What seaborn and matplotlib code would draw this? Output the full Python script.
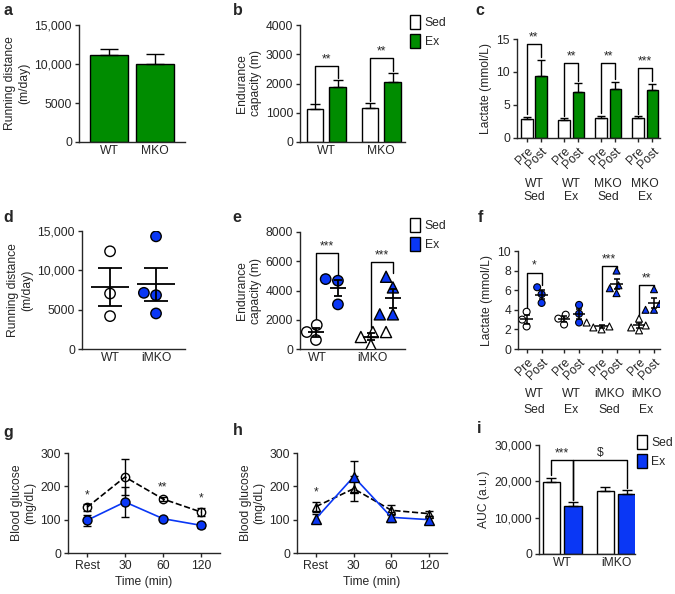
import numpy as np
import pandas as pd
import matplotlib
matplotlib.use("Agg")
import matplotlib.pyplot as plt
import matplotlib.transforms as mtransforms
from matplotlib.patches import Patch
import seaborn as sns

FS = 8.7
sns.set_style("ticks")
plt.rcParams["font.family"] = ["Liberation Sans", "DejaVu Sans"]
plt.rcParams["font.size"] = FS
plt.rcParams["axes.linewidth"] = 1.0

GREEN = "#008C00"
BLUE = "#0A37F5"

# ---------------- data ----------------
# a: voluntary running, MKO cohort (mean, sem)
a_genotype = ["WT", "MKO"]
a_mean = [11200, 10000]
a_sem = [700, 1250]

# b: endurance capacity, MKO cohort
b_genotype = ["WT", "MKO"]
b_sed_mean = [1140, 1165]
b_sed_sem = [150, 170]
b_ex_mean = [1865, 2035]
b_ex_sem = [250, 340]
b_bracket = [2600, 2880]
b_stars = ["**", "**"]

# c: blood lactate pre/post run, MKO cohort
c_group = ["WT Sed", "WT Ex", "MKO Sed", "MKO Ex"]
c_pre_mean = [2.85, 2.7, 3.1, 3.0]
c_pre_sem = [0.4, 0.3, 0.25, 0.3]
c_post_mean = [9.4, 6.9, 7.4, 7.3]
c_post_sem = [2.4, 1.4, 1.1, 0.9]
c_bracket = [14.2, 11.4, 11.4, 10.6]
c_stars = ["**", "**", "**", "***"]

# d: voluntary running, iMKO cohort (single mice)
d_wt = [12420, 7050, 4180]
d_imko = [14320, 7140, 6840, 4520]

# e: endurance capacity, iMKO cohort (single mice)
e_wt_sed = [1640, 1160, 615]
e_wt_ex = [4780, 4670, 3050]
e_imko_sed = [1160, 1160, 820, 270]
e_imko_ex = [4940, 4210, 2370, 2370]
e_bracket = [6580, 5920]
e_stars = ["***", "***"]

# f: blood lactate, iMKO cohort (single mice)
f_group = ["WT Sed", "WT Ex", "iMKO Sed", "iMKO Ex"]
f_pre = [[3.8, 3.0, 2.3], [3.5, 3.1, 2.5], [2.7, 2.3, 2.2, 2.0], [3.1, 2.4, 2.2, 1.9]]
f_post = [[6.3, 5.6, 4.7], [4.5, 3.6, 2.7], [8.0, 6.5, 6.2, 5.7], [6.1, 4.6, 4.0, 4.0]]
f_sig_group = [0, 2, 3]
f_bracket = [7.8, 8.5, 6.5]
f_stars = ["*", "***", "**"]

# g, h: blood glucose during exercise
times = ["Rest", "30", "60", "120"]
g_sed_mean = [137, 228, 162, 123]
g_sed_sem = [10, 54, 7, 13]
g_ex_mean = [98, 153, 103, 83]
g_ex_sem = [17, 44, 5, 7]
g_stars = ["*", "", "**", "*"]
h_sed_mean = [139, 193, 128, 118]
h_sed_sem = [15, 37, 15, 7]
h_ex_mean = [103, 229, 107, 100]
h_ex_sem = [13, 47, 15, 12]
h_stars = ["*", "", "", ""]

# i: glucose AUC
i_genotype = ["WT", "iMKO"]
i_sed_mean = [19700, 17400]
i_sed_sem = [1300, 1000]
i_ex_mean = [13200, 16400]
i_ex_sem = [1000, 1100]


# ---------------- helpers ----------------
fig = plt.figure(figsize=(6.75, 5.94), dpi=100)


def add_axes(x0, y0, x1, y1):
    return fig.add_axes([x0 / 675, 1 - y1 / 594, (x1 - x0) / 675, (y1 - y0) / 594])


def style(ax, ymax, yticks, ylabels, ylabel, xlim, xtick_len=0):
    ax.set_ylim(0, ymax)
    ax.set_yticks(yticks, ylabels)
    ax.set_xlim(*xlim)
    ax.set_ylabel(ylabel, labelpad=3)
    ax.set_xlabel("")
    sns.despine(ax=ax)
    ax.tick_params(axis="y", length=3, width=1, pad=2)
    ax.tick_params(axis="x", length=xtick_len, width=1, pad=2)


def bracket(ax, x1, x2, top, y1, y2, text):
    ax.plot([x1, x1, x2, x2], [y1, top, top, y2], color="black", lw=1, clip_on=False)
    ax.annotate(text, xy=((x1 + x2) / 2, top), xytext=(0, 0.5), textcoords="offset points",
                ha="center", va="bottom", fontsize=FS)


def hue_bars(ax, groups, conds, means, sems, colors, width, gap, capsize):
    rows = []
    for gi, g in enumerate(groups):
        for ci, c in enumerate(conds):
            rows.append({"group": g, "cond": c, "value": means[ci][gi], "sem": sems[ci][gi]})
    df = pd.DataFrame(rows)
    sns.barplot(data=df, x="group", y="value", hue="cond", order=groups, hue_order=conds,
                palette=dict(zip(conds, colors)), width=width, gap=gap, errorbar=None,
                saturation=1, edgecolor="black", linewidth=1, legend=False, ax=ax)
    centers = sorted(p.get_x() + p.get_width() / 2 for p in ax.patches)
    ax.errorbar(centers, df["value"], yerr=[np.zeros(len(df)), df["sem"]], fmt="none",
                ecolor="black", elinewidth=1, capsize=capsize, capthick=1, zorder=3)
    return centers, df


def mean_sem(ax, pos, values, half, capsize, lw=1.3):
    v = pd.Series(values)
    ax.hlines(v.mean(), pos - half, pos + half, color="black", lw=lw, zorder=4)
    ax.errorbar(pos, v.mean(), yerr=v.sem(), fmt="none", ecolor="black", elinewidth=lw,
                capsize=capsize, capthick=lw, zorder=4)


def legend(ax, fill, x, y):
    handles = [Patch(facecolor="white", edgecolor="black", lw=1, label="Sed"),
               Patch(facecolor=fill, edgecolor="black", lw=1, label="Ex")]
    ax.legend(handles=handles, loc="upper left", bbox_to_anchor=(x, y), frameon=False,
              handlelength=0.8, handleheight=1.35, handletextpad=0.4, labelspacing=0.45,
              borderaxespad=0, borderpad=0, fontsize=FS)


def group_labels(ax, names, y, spacing):
    trans = mtransforms.blended_transform_factory(ax.transData, ax.transAxes)
    for k, name in enumerate(names):
        ax.text(k, y, name.replace(" ", "\n"), transform=trans, ha="center", va="top",
                linespacing=spacing, fontsize=FS)


# ---------------- a ----------------
ax = add_axes(79, 25, 185, 142)
sns.barplot(x=a_genotype, y=a_mean, color=GREEN, width=0.82, errorbar=None, saturation=1,
            edgecolor="black", linewidth=1, ax=ax)
a_pos = [p.get_x() + p.get_width() / 2 for p in ax.patches]
ax.errorbar(a_pos, a_mean, yerr=[np.zeros(2), a_sem], fmt="none", ecolor="black",
            elinewidth=1, capsize=6.8, capthick=1)
style(ax, 15000, [0, 5000, 10000, 15000], ["0", "5000", "10,000", "15,000"],
      "Running distance\n(m/day)", (-0.65, 1.65))

# ---------------- b ----------------
ax = add_axes(300, 25, 405, 142)
pos, df = hue_bars(ax, b_genotype, ["Sed", "Ex"], [b_sed_mean, b_ex_mean],
                   [b_sed_sem, b_ex_sem], ["white", GREEN], 0.82, 0.27, 3.6)
tops = (df["value"] + df["sem"]).tolist()
for k in range(2):
    bracket(ax, pos[2 * k], pos[2 * k + 1], b_bracket[k], tops[2 * k] + 60,
            tops[2 * k + 1] + 60, b_stars[k])
style(ax, 4000, [0, 1000, 2000, 3000, 4000], ["0", "1000", "2000", "3000", "4000"],
      "Endurance\ncapacity (m)", (-0.48, 1.43))
legend(ax, GREEN, 1.048, 1.085)

# ---------------- c ----------------
ax = add_axes(517, 39, 660, 138)
pos, df = hue_bars(ax, c_group, ["Pre", "Post"], [c_pre_mean, c_post_mean],
                   [c_pre_sem, c_post_sem], ["white", GREEN], 0.78, 0.2, 2.9)
tops = (df["value"] + df["sem"]).tolist()
for k in range(4):
    bracket(ax, pos[2 * k], pos[2 * k + 1], c_bracket[k], tops[2 * k] + 0.4,
            tops[2 * k + 1] + 0.4, c_stars[k])
style(ax, 15, [0, 5, 10, 15], ["0", "5", "10", "15"], "Lactate (mmol/L)", (-0.46, 3.4), 3)
ax.set_xticks(pos, ["Pre", "Post"] * 4, rotation=45, ha="right", va="top",
              rotation_mode="anchor")
group_labels(ax, c_group, -0.40, 1.2)

# ---------------- d ----------------
ax = add_axes(82, 231, 185, 349)
d_df = pd.DataFrame({"genotype": ["WT"] * len(d_wt) + ["iMKO"] * len(d_imko),
                     "distance": d_wt + d_imko})
sns.swarmplot(data=d_df, x="genotype", y="distance", hue="genotype", order=["WT", "iMKO"],
              palette={"WT": "white", "iMKO": BLUE}, size=7.5, edgecolor="black",
              linewidth=1, legend=False, ax=ax)
for k, vals in enumerate([d_wt, d_imko]):
    mean_sem(ax, k, vals, 0.41, 8.3)
style(ax, 15000, [0, 5000, 10000, 15000], ["0", "5000", "10,000", "15,000"],
      "Running distance\n(m/day)", (-0.61, 1.63))

# ---------------- e ----------------
ax = add_axes(300, 232, 405, 349)
e_df = pd.DataFrame({
    "genotype": ["WT"] * (len(e_wt_sed) + len(e_wt_ex)) + ["iMKO"] * (len(e_imko_sed) + len(e_imko_ex)),
    "cond": ["Sed"] * len(e_wt_sed) + ["Ex"] * len(e_wt_ex) + ["Sed"] * len(e_imko_sed) + ["Ex"] * len(e_imko_ex),
    "distance": e_wt_sed + e_wt_ex + e_imko_sed + e_imko_ex,
})
for geno, mk, sz in [("WT", "o", 7.5), ("iMKO", "^", 8)]:
    sns.swarmplot(data=e_df[e_df["genotype"] == geno], x="genotype", y="distance", hue="cond",
                  order=["WT", "iMKO"], hue_order=["Sed", "Ex"], dodge=True,
                  palette={"Sed": "white", "Ex": BLUE}, marker=mk, size=sz,
                  edgecolor="black", linewidth=1, legend=False, ax=ax)
e_sets = [e_wt_sed, e_wt_ex, e_imko_sed, e_imko_ex]
for k, vals in enumerate(e_sets):
    mean_sem(ax, k // 2 + (0.2 if k % 2 else -0.2), vals, 0.14, 2.9)
for k in range(2):
    bracket(ax, k - 0.2, k + 0.2, e_bracket[k], max(e_sets[2 * k]) + 250,
            max(e_sets[2 * k + 1]) + 250, e_stars[k])
style(ax, 8000, [0, 2000, 4000, 6000, 8000], ["0", "2000", "4000", "6000", "8000"],
      "Endurance\ncapacity (m)", (-0.49, 1.42))
ax.set_xticks([-0.18, 0.82], ["WT", "iMKO"])
legend(ax, BLUE, 1.048, 1.12)

# ---------------- f ----------------
ax = add_axes(518, 251, 660, 349)
rows = []
for k, g in enumerate(f_group):
    rows += [{"group": g, "phase": "Pre", "lactate": v} for v in f_pre[k]]
    rows += [{"group": g, "phase": "Post", "lactate": v} for v in f_post[k]]
f_df = pd.DataFrame(rows)
for subset, mk in [(f_group[:2], "o"), (f_group[2:], "^")]:
    sns.swarmplot(data=f_df[f_df["group"].isin(subset)], x="group", y="lactate", hue="phase",
                  order=f_group, hue_order=["Pre", "Post"], dodge=True,
                  palette={"Pre": "white", "Post": BLUE}, marker=mk, size=5,
                  edgecolor="black", linewidth=0.8, legend=False, ax=ax)
for k in range(4):
    mean_sem(ax, k - 0.2, f_pre[k], 0.17, 2.5, lw=1.1)
    mean_sem(ax, k + 0.2, f_post[k], 0.17, 2.5, lw=1.1)
for k, top, s in zip(f_sig_group, f_bracket, f_stars):
    bracket(ax, k - 0.2, k + 0.2, top, max(f_pre[k]) + 0.25, max(f_post[k]) + 0.25, s)
style(ax, 10, [0, 2, 4, 6, 8, 10], ["0", "2", "4", "6", "8", "10"], "Lactate (mmol/L)",
      (-0.43, 3.36), 3)
ax.set_xticks([k + d for k in range(4) for d in (-0.2, 0.2)], ["Pre", "Post"] * 4,
              rotation=45, ha="right", va="top", rotation_mode="anchor")
group_labels(ax, f_group, -0.40, 1.45)


# ---------------- g, h ----------------
def glucose(ax, sed_mean, sed_sem, ex_mean, ex_sem, marker, stars, xlim):
    sns.pointplot(x=times, y=ex_mean, order=times, color=BLUE, marker=marker, linestyle="-",
                  markersize=6.5, linewidth=1.2, markeredgewidth=1, errorbar=None, ax=ax)
    ex_line = ax.lines[-1]
    sns.pointplot(x=times, y=sed_mean, order=times, color="black", marker=marker,
                  linestyle="--", markersize=6, linewidth=1.2, markeredgewidth=1,
                  errorbar=None, ax=ax)
    sed_line = ax.lines[-1]
    ex_line.set_markeredgecolor("black")
    ex_line.set_zorder(4)
    sed_line.set_markerfacecolor("none")
    sed_line.set_zorder(3)
    x = np.arange(len(times))
    ax.errorbar(x, sed_mean, yerr=sed_sem, fmt="none", ecolor="black", elinewidth=1,
                capsize=2.9, capthick=1, zorder=3)
    ax.errorbar(x, ex_mean, yerr=ex_sem, fmt="none", ecolor="black", elinewidth=1,
                capsize=2.9, capthick=1, zorder=2)
    for k, s in enumerate(stars):
        if s:
            ax.annotate(s, xy=(k, sed_mean[k] + sed_sem[k]), xytext=(0, 2),
                        textcoords="offset points", ha="center", va="bottom", fontsize=FS)
    style(ax, 300, [0, 100, 200, 300], ["0", "100", "200", "300"], "Blood glucose\n(mg/dL)",
          xlim, 3)
    ax.set_xlabel("Time (min)", labelpad=3)


ax = add_axes(68, 453, 220, 553)
glucose(ax, g_sed_mean, g_sed_sem, g_ex_mean, g_ex_sem, "o", g_stars, (-0.5, 3.5))
ax = add_axes(297, 453, 447, 553)
glucose(ax, h_sed_mean, h_sed_sem, h_ex_mean, h_ex_sem, "^", h_stars, (-0.5, 3.47))

# ---------------- i ----------------
ax = add_axes(539, 445, 635, 554)
pos, df = hue_bars(ax, i_genotype, ["Sed", "Ex"], [i_sed_mean, i_ex_mean],
                   [i_sed_sem, i_ex_sem], ["white", BLUE], 0.8, 0.2, 3.6)
tops = (df["value"] + df["sem"]).tolist()
bracket(ax, pos[0], pos[1], 25900, tops[0] + 800, tops[1] + 600, "***")
bracket(ax, pos[1], pos[3], 25900, tops[1] + 600, tops[3] + 600, "$")
style(ax, 30000, [0, 10000, 20000, 30000], ["0", "10,000", "20,000", "30,000"],
      "AUC (a.u.)", (-0.43, 1.35))
legend(ax, BLUE, 1.02, 1.09)

# ---------------- panel letters ----------------
for letter, x, y in [("a", 3, 15), ("b", 233, 15), ("c", 475, 15), ("d", 3, 222),
                     ("e", 232, 222), ("f", 478, 222), ("g", 3, 437), ("h", 233, 435),
                     ("i", 477, 433)]:
    fig.text(x / 675, 1 - y / 594, letter, fontsize=11.5, fontweight="bold", va="baseline")

fig.savefig("out.png", dpi=100)
